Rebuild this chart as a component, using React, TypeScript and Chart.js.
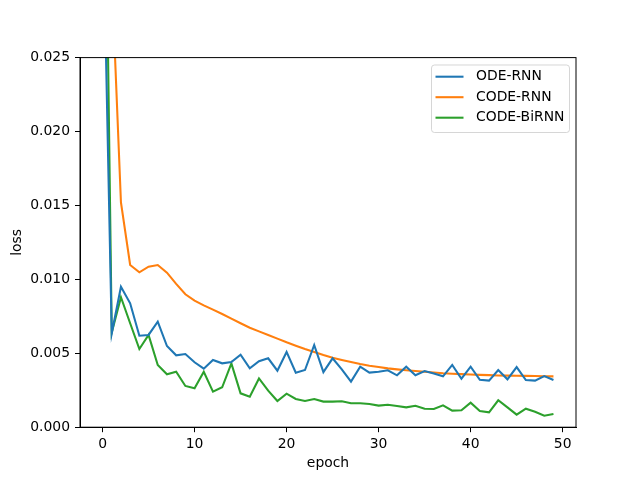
import Chart, { ChartOptions, Plugin } from 'chart.js/auto'
import React, { useEffect, useRef } from 'react'

// epochs on the x axis
const epochs = [
  0, 1, 2, 3, 4, 5, 6, 7, 8, 9, 10, 11, 12, 13, 14, 15, 16, 17, 18, 19, 20, 21, 22, 23, 24,
  25, 26, 27, 28, 29, 30, 31, 32, 33, 34, 35, 36, 37, 38, 39, 40, 41, 42, 43, 44, 45, 46, 47,
  48, 49,
]

const odeRnn = [
  0.0364, 0.00635, 0.0095, 0.00838, 0.00619, 0.00624, 0.00714, 0.00549, 0.00486, 0.00495,
  0.00439, 0.00396, 0.00455, 0.00432, 0.00441, 0.0049, 0.00398, 0.00446, 0.00466, 0.00382,
  0.00509, 0.00369, 0.00387, 0.00556, 0.00373, 0.00466, 0.00391, 0.00308, 0.00409, 0.00369,
  0.00375, 0.00385, 0.00351, 0.00409, 0.00352, 0.0038, 0.00364, 0.00344, 0.00421, 0.00328,
  0.00409, 0.00321, 0.00315, 0.00387, 0.00324, 0.00407, 0.00319, 0.00315, 0.00346, 0.00319,
]

const codeRnn = [
  0.06, 0.0305, 0.0152, 0.01097, 0.01048, 0.01086, 0.01097, 0.01045, 0.00969, 0.00899,
  0.00856, 0.00824, 0.00795, 0.00766, 0.00734, 0.00703, 0.00673, 0.00648, 0.00624, 0.00599,
  0.00574, 0.00551, 0.00529, 0.00509, 0.00488, 0.0047, 0.00455, 0.00441, 0.00427, 0.00416,
  0.00407, 0.00398, 0.00391, 0.00385, 0.0038, 0.00375, 0.0037, 0.00365, 0.00362, 0.00359,
  0.00356, 0.00354, 0.00352, 0.0035, 0.00349, 0.00348, 0.00347, 0.00346, 0.00345, 0.00344,
]

const codeBiRnn = [
  0.053, 0.0064, 0.00879, 0.00703, 0.00529, 0.00624, 0.00421, 0.00358, 0.00375, 0.00279,
  0.00263, 0.00375, 0.0024, 0.0027, 0.00432, 0.00229, 0.00206, 0.0033, 0.00247, 0.00177,
  0.00227, 0.00191, 0.00177, 0.00191, 0.00173, 0.00173, 0.00175, 0.00162, 0.00162, 0.00157,
  0.00146, 0.00152, 0.00143, 0.00134, 0.00145, 0.00125, 0.00123, 0.00148, 0.00112, 0.00114,
  0.00166, 0.0011, 0.00101, 0.00182, 0.00134, 0.00085, 0.00125, 0.00105, 0.00078, 0.00089,
]

const xTicks = [0, 10, 20, 30, 40, 50]
const yTicks = [0, 0.005, 0.01, 0.015, 0.02, 0.025]

const seriesNames = ['ODE-RNN', 'CODE-RNN', 'CODE-BiRNN']
const colors = ['#1f77b4', '#ff7f0e', '#2ca02c']

const FONT = 'DejaVu Sans'
const FS = 13.9

const toPoints = (vals: number[]) => epochs.map((e, i) => ({ x: e, y: vals[i] }))

// box around the plot + legend in the upper right, matplotlib style
const frameAndLegend: Plugin<'line'> = {
  id: 'frameAndLegend',
  afterDraw(chart) {
    const { ctx, chartArea } = chart
    ctx.save()
    ctx.strokeStyle = '#000'
    ctx.lineWidth = 1
    ctx.strokeRect(chartArea.left, chartArea.top, chartArea.right - chartArea.left, chartArea.bottom - chartArea.top)

    const bx = 431.5
    const by = 65
    const bw = 138
    const bh = 67.5
    const r = 3
    ctx.beginPath()
    ctx.moveTo(bx + r, by)
    ctx.arcTo(bx + bw, by, bx + bw, by + bh, r)
    ctx.arcTo(bx + bw, by + bh, bx, by + bh, r)
    ctx.arcTo(bx, by + bh, bx, by, r)
    ctx.arcTo(bx, by, bx + bw, by, r)
    ctx.closePath()
    ctx.fillStyle = 'rgba(255,255,255,0.8)'
    ctx.fill()
    ctx.strokeStyle = 'rgba(204,204,204,0.8)'
    ctx.stroke()

    ctx.font = `${FS}px "${FONT}"`
    ctx.textBaseline = 'middle'
    ctx.textAlign = 'left'
    seriesNames.forEach((name, i) => {
      const y = by + 11.7 + i * 20.5
      ctx.strokeStyle = colors[i]
      ctx.lineWidth = 2.08
      ctx.beginPath()
      ctx.moveTo(435.5, y)
      ctx.lineTo(463.5, y)
      ctx.stroke()
      ctx.fillStyle = '#000'
      ctx.fillText(name, 476, y)
    })
    ctx.restore()
  },
}

const options: ChartOptions<'line'> = {
  animation: false,
  responsive: true,
  maintainAspectRatio: false,
  layout: { padding: { top: 57.6, right: 64, left: 0, bottom: 0 } },
  plugins: {
    legend: { display: false },
    tooltip: { enabled: false },
  },
  elements: {
    point: { radius: 0 },
    line: { borderWidth: 2.08, tension: 0 },
  },
  scales: {
    x: {
      type: 'linear',
      min: -2.45,
      max: 51.45,
      afterBuildTicks: (scale) => {
        scale.ticks = xTicks.map((v) => ({ value: v }))
      },
      afterFit: (scale) => {
        scale.height = 52.8
      },
      grid: { drawOnChartArea: false, drawTicks: true, tickLength: 5, tickColor: '#000' },
      border: { color: '#000', width: 1 },
      ticks: {
        color: '#000',
        padding: 4,
        maxRotation: 0,
        font: { family: FONT, size: FS },
        callback: (v) => String(v),
      },
      title: {
        display: true,
        text: 'epoch',
        color: '#000',
        font: { family: FONT, size: FS },
        padding: { top: 0, bottom: 8 },
      },
    },
    y: {
      min: 0,
      max: 0.025,
      afterBuildTicks: (scale) => {
        scale.ticks = yTicks.map((v) => ({ value: v }))
      },
      afterFit: (scale) => {
        scale.width = 80
      },
      grid: { drawOnChartArea: false, drawTicks: true, tickLength: 5, tickColor: '#000' },
      border: { color: '#000', width: 1 },
      ticks: {
        color: '#000',
        padding: 5,
        font: { family: FONT, size: FS },
        callback: (v) => Number(v).toFixed(3),
      },
      title: {
        display: true,
        text: 'loss',
        color: '#000',
        font: { family: FONT, size: FS },
        padding: { top: 9, bottom: 0 },
      },
    },
  },
}

const LossChart: React.FC = () => {
  const chartRef = useRef<HTMLCanvasElement>(null)
  const chartInstanceRef = useRef<Chart<'line'> | null>(null)

  useEffect(() => {
    if (chartRef.current) {
      chartInstanceRef.current = new Chart(chartRef.current, {
        type: 'line',
        data: {
          datasets: [
            { label: seriesNames[0], data: toPoints(odeRnn), borderColor: colors[0], backgroundColor: colors[0] },
            { label: seriesNames[1], data: toPoints(codeRnn), borderColor: colors[1], backgroundColor: colors[1] },
            { label: seriesNames[2], data: toPoints(codeBiRnn), borderColor: colors[2], backgroundColor: colors[2] },
          ],
        },
        options,
        plugins: [frameAndLegend],
      })
    }

    return () => {
      if (chartInstanceRef.current) {
        chartInstanceRef.current.destroy()
      }
    }
  }, [])

  return (
    <div style={{ position: 'fixed', left: 0, top: 0, width: '640px', height: '480px', background: '#fff' }}>
      <canvas ref={chartRef} style={{ width: '100%', height: '100%' }} />
    </div>
  )
}

export default function App() {
  return <LossChart />
}
